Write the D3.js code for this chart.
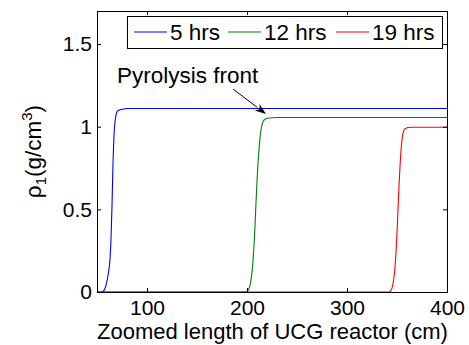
<!DOCTYPE html>
<html>
<head>
<meta charset="utf-8">
<script src="https://cdn.jsdelivr.net/npm/d3@7"></script>
<style>
  html, body { margin: 0; padding: 0; background: #fff; }
  text { font-family: "Liberation Sans", Arial, Helvetica, sans-serif; }
</style>
</head>
<body>
<svg id="chart" width="469" height="345"></svg>
<script>
// ---- data ----
const seriesNames = ["5 hrs", "12 hrs", "19 hrs"];
const seriesColors = ["#0000ff", "#008000", "#ff0000"];

const blueX = [50, 55, 57, 59, 61, 62, 63, 64, 65, 66, 67, 68, 69, 70, 72, 75, 80, 400];
const blueY = [0, 0, 0.01, 0.04, 0.1, 0.14, 0.2, 0.32, 0.52, 0.78, 0.95, 1.03, 1.07, 1.09, 1.1, 1.105, 1.11, 1.11];

const greenX = [50, 199, 201, 203, 205, 206, 207, 208, 209, 210, 211, 212, 213, 214, 216, 218, 222, 230, 400];
const greenY = [0, 0, 0.01, 0.04, 0.12, 0.19, 0.28, 0.4, 0.54, 0.67, 0.78, 0.86, 0.93, 0.98, 1.03, 1.045, 1.053, 1.056, 1.056];

const redX = [50, 342, 344, 346, 348, 349, 350, 351, 352, 353, 354, 355, 356, 357, 359, 361, 365, 375, 400];
const redY = [0, 0, 0.01, 0.05, 0.15, 0.24, 0.36, 0.5, 0.64, 0.76, 0.855, 0.92, 0.96, 0.98, 0.99, 0.995, 0.997, 0.997, 0.997];

const xTicks = [100, 200, 300, 400];
const yTicks = [0, 0.5, 1, 1.5];
const xDomain = [50, 400];
const yDomain = [0, 1.7];
const xLabel = "Zoomed length of UCG reactor (cm)";
const annotationText = "Pyrolysis front";

// ---- layout ----
const svg = d3.select("#chart");
const L = 97, R = 447, T = 11, B = 292;
const FS = 22, TFS = 21, LFS = 22.5;

const x = d3.scaleLinear().domain(xDomain).range([L, R]);
const y = d3.scaleLinear().domain(yDomain).range([B, T]);

// lines
const series = [
  blueX.map((v, i) => [v, blueY[i]]),
  greenX.map((v, i) => [v, greenY[i]]),
  redX.map((v, i) => [v, redY[i]])
];
const line = d3.line().x(d => x(d[0])).y(d => y(d[1])).curve(d3.curveMonotoneX);
svg.append("g").selectAll("path").data(series).join("path")
  .attr("d", line)
  .attr("fill", "none")
  .attr("stroke", (d, i) => seriesColors[i])
  .attr("stroke-width", 1.1);

// axes
const fmt = d => d3.format("~g")(d);
const gx = svg.append("g").attr("transform", `translate(0,${B})`)
  .call(d3.axisBottom(x).tickValues(xTicks).tickSizeInner(-4).tickSizeOuter(0).tickPadding(8).tickFormat(fmt));
const gxTop = svg.append("g").attr("transform", `translate(0,${T})`)
  .call(d3.axisTop(x).tickValues(xTicks).tickSizeInner(-4).tickSizeOuter(0).tickFormat(""));
const gy = svg.append("g").attr("transform", `translate(${L},0)`)
  .call(d3.axisLeft(y).tickValues(yTicks).tickSizeInner(-4).tickSizeOuter(0).tickPadding(5).tickFormat(fmt));
const gyR = svg.append("g").attr("transform", `translate(${R},0)`)
  .call(d3.axisRight(y).tickValues(yTicks).tickSizeInner(-4).tickSizeOuter(0).tickFormat(""));
[gx, gxTop, gy, gyR].forEach(g => {
  g.select(".domain").remove();
  g.selectAll("line").attr("stroke", "#000");
  g.selectAll("text").attr("fill", "#000").style("font-size", TFS + "px")
    .style("font-family", '"Liberation Sans", Arial, sans-serif');
});

// box
svg.append("rect").attr("x", L + 0.5).attr("y", T + 0.5)
  .attr("width", R - L).attr("height", B - T)
  .attr("fill", "none").attr("stroke", "#000").attr("stroke-width", 1);

// x label
svg.append("text").attr("x", (L + R) / 2 + 0.5).attr("y", 339)
  .attr("text-anchor", "middle").style("font-size", FS + "px").text(xLabel);

// y label
const yl = svg.append("text")
  .attr("transform", `translate(41,${(T + B) / 2}) rotate(-90)`)
  .attr("text-anchor", "middle").style("font-size", LFS + "px");
yl.append("tspan").text("ρ");
yl.append("tspan").attr("dy", 5).style("font-size", "15px").text("1");
yl.append("tspan").attr("dy", -5).text("(g/cm");
yl.append("tspan").attr("dy", -9).style("font-size", "15px").text("3");
yl.append("tspan").attr("dy", 9).text(")");

// legend
const lg = svg.append("g");
lg.append("rect").attr("x", 127.5).attr("y", 16.5).attr("width", 315).attr("height", 32)
  .attr("fill", "#fff").attr("stroke", "#000");
const legendPos = [134, 228, 336];
seriesNames.forEach((name, i) => {
  const lx = legendPos[i];
  lg.append("line").attr("x1", lx).attr("x2", lx + 33).attr("y1", 32).attr("y2", 32)
    .attr("stroke", seriesColors[i]).attr("stroke-width", 1.1);
  lg.append("text").attr("x", lx + 36).attr("y", 40).style("font-size", LFS + "px").text(name);
});

// annotation
svg.append("text").attr("x", 117).attr("y", 83).style("font-size", LFS + "px").text(annotationText);
const ax1 = 233, ay1 = 89, ax2 = 266, ay2 = 114;
const ang = Math.atan2(ay2 - ay1, ax2 - ax1);
const hl = 11, hw = 4;
const bx = ax2 - hl * Math.cos(ang), by = ay2 - hl * Math.sin(ang);
svg.append("line").attr("x1", ax1).attr("y1", ay1).attr("x2", bx).attr("y2", by)
  .attr("stroke", "#000").attr("stroke-width", 1);
svg.append("path")
  .attr("d", `M${ax2},${ay2} L${bx - hw * Math.sin(ang)},${by + hw * Math.cos(ang)} L${bx + 3 * Math.cos(ang)},${by + 3 * Math.sin(ang)} L${bx + hw * Math.sin(ang)},${by - hw * Math.cos(ang)} Z`)
  .attr("fill", "#000");
</script>
</body>
</html>
